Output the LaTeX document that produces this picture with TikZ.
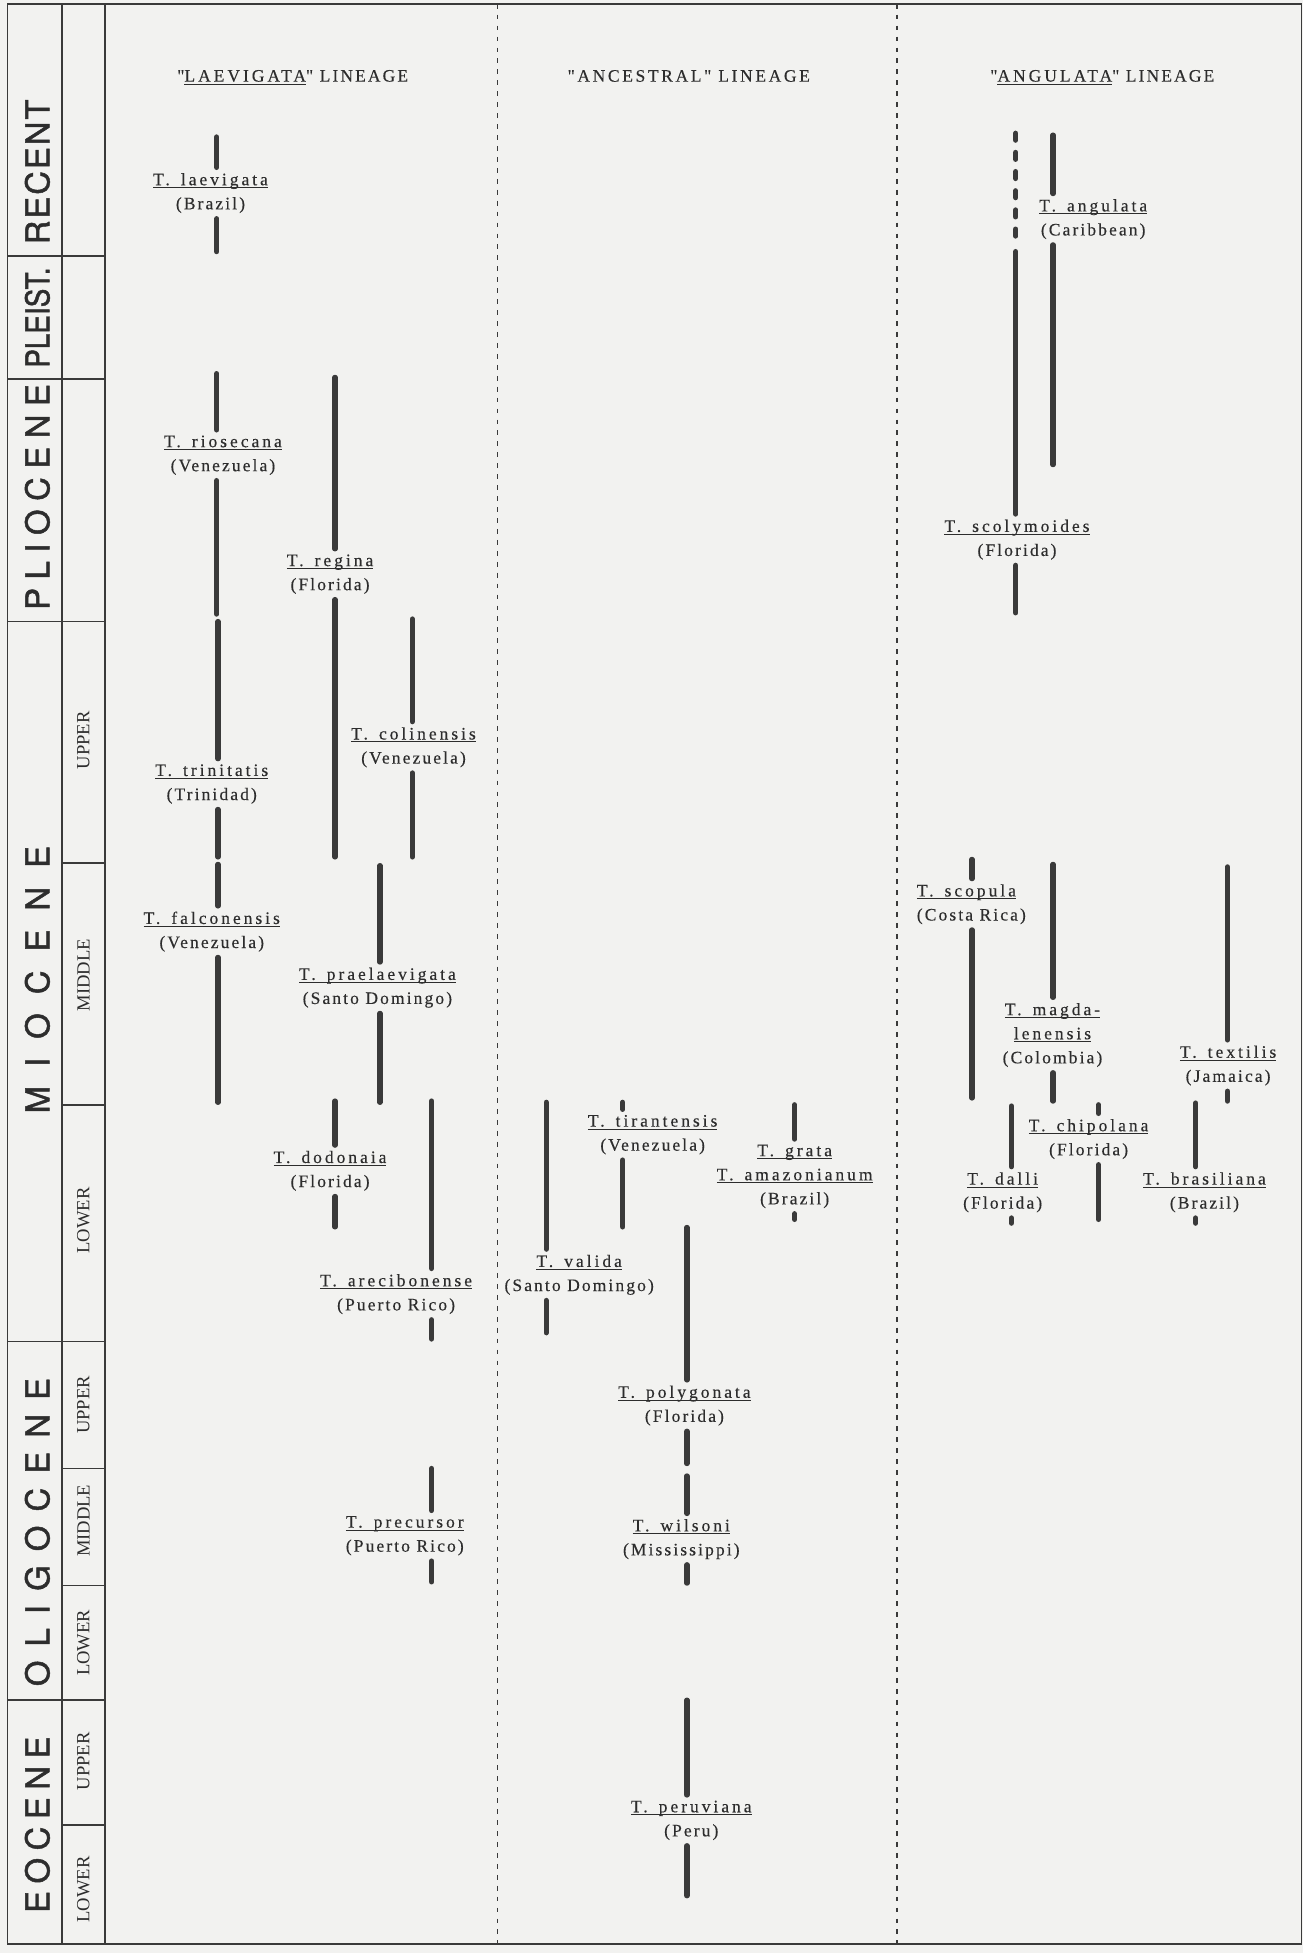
\documentclass[tikz,border=0pt]{standalone}
\usepackage{fontspec}
\setmainfont{Liberation Serif}
\newfontfamily\specfont[LetterSpace=12, FakeBold=0.3]{Liberation Serif}
\newfontfamily\namefont[LetterSpace=17, WordSpace=1.5, FakeBold=0.3]{Liberation Serif}
\newfontfamily\epochfont[FakeBold=1.5]{TeX Gyre Heros}
\definecolor{paper}{RGB}{242,242,240}
\definecolor{ink}{RGB}{58,58,58}
\definecolor{type}{RGB}{45,45,45}
% underlined species name, rule set just below the baseline
\newcommand{\uname}[1]{\setbox0=\hbox{\namefont #1}\rlap{\rule[-1.3pt]{\wd0}{0.4pt}}\box0}

\begin{document}
\begin{tikzpicture}[x=0.02cm, y=-0.02cm]
	\tikzset{
		frame/.style={draw=ink, line width=0.8pt},
		divide/.style={draw=ink, line width=0.7pt, dash pattern=on 2.2pt off 2.8pt},
		bar/.style={draw=ink, line width=0.085cm, line cap=round},
		dotbar/.style={bar, dash pattern=on 0.11cm off 0.198cm},
		spec/.style={align=center, inner xsep=1pt, inner ysep=2.4pt, text=type, font=\specfont\fontsize{8}{11}\selectfont},
		lineage/.style={text=type, font=\specfont\fontsize{8}{11}\selectfont},
		epoch/.style={rotate=90, inner sep=0pt, text=type, font=\epochfont\fontsize{15}{15}\selectfont},
		stage/.style={rotate=90, inner sep=0pt, text=type, font=\fontsize{8.5}{8.5}\selectfont}
	}
	\useasboundingbox[fill=paper] (0,0) rectangle (1046,1568);

	% time scale
	\draw[frame] (6,3) rectangle (1045,1561);
	\draw[frame] (50,3) -- (50,1561);
	\draw[frame] (84,3) -- (84,1561);
	\foreach \y in {205.7,304,499,1077,1365}
		\draw[frame] (6,\y) -- (84,\y);
	\foreach \y in {693,887,1179,1273,1465}
		\draw[frame] (50,\y) -- (84,\y);
	\draw[divide] (399.5,3) -- (399.5,1561);
	\draw[divide] (720,3) -- (720,1561);

	\node[epoch] (recent) at (30,138) {\addfontfeature{LetterSpace=6}RECENT};
	\node[epoch, xscale=0.85] (pleist) at (30,255) {PLEIST.};
	\node[epoch] (plio) at (30,399) {\addfontfeature{LetterSpace=26}PLIOCENE};
	\node[epoch] (mio) at (30,786.5) {\addfontfeature{LetterSpace=58}MIOCENE};
	\node[epoch] (oligo) at (30,1230) {\addfontfeature{LetterSpace=43}OLIGOCENE};
	\node[epoch] (eoc) at (30,1465) {\addfontfeature{LetterSpace=23}EOCENE};

	\node[stage] (mio-u) at (67,594.5) {UPPER};
	\node[stage] (mio-m) at (67,783) {MIDDLE};
	\node[stage] (mio-l) at (67,980) {LOWER};
	\node[stage] (oli-u) at (67,1128) {UPPER};
	\node[stage] (oli-m) at (67,1221) {MIDDLE};
	\node[stage] (oli-l) at (67,1319) {LOWER};
	\node[stage] (eoc-u) at (67,1414) {UPPER};
	\node[stage] (eoc-l) at (67,1517) {LOWER};

	% lineage heads
	\node[lineage] (hlaev) at (235,62) {"\uname{LAEVIGATA}" LINEAGE};
	\node[lineage] (hanc) at (553,61) {\addfontfeature{LetterSpace=15}"ANCESTRAL" LINEAGE};
	\node[lineage] (hang) at (885,62) {"\uname{ANGULATA}" LINEAGE};

	% "laevigata" lineage
	\coordinate (laev-t) at (174,110);   \coordinate (laev-b) at (174,202);
	\coordinate (rios-t) at (174,300);   \coordinate (rios-b) at (174,493);
	\coordinate (regi-t) at (269,303);   \coordinate (regi-b) at (269,688);
	\coordinate (trin-t) at (175,499);   \coordinate (trin-b) at (175,688);
	\coordinate (falc-t) at (175,694);   \coordinate (falc-b) at (175,885);
	\coordinate (coli-t) at (331,497);   \coordinate (coli-b) at (331,688);
	\coordinate (prae-t) at (305,695);   \coordinate (prae-b) at (305,885);
	\coordinate (dodo-t) at (269,884);   \coordinate (dodo-b) at (269,985);
	\coordinate (arec-t) at (346.5,884); \coordinate (arec-b) at (346.5,1075);
	\coordinate (prec-t) at (346.5,1179); \coordinate (prec-b) at (346.5,1270);
	\node[spec] (laev) at (169,155) {\uname{T. laevigata}\\(Brazil)};
	\node[spec] (rios) at (179,365.5) {\uname{T. riosecana}\\(Venezuela)};
	\node[spec] (regi) at (265,461) {\uname{T. regina}\\(Florida)};
	\node[spec] (trin) at (170,629.5) {\uname{T. trinitatis}\\(Trinidad)};
	\node[spec] (falc) at (170,748) {\uname{T. falconensis}\\(Venezuela)};
	\node[spec] (coli) at (332,600) {\uname{T. colinensis}\\(Venezuela)};
	\node[spec] (prae) at (303,793) {\uname{T. praelaevigata}\\(Santo Domingo)};
	\node[spec] (dodo) at (265,940) {\uname{T. dodonaia}\\(Florida)};
	\node[spec] (arec) at (318,1039) {\uname{T. arecibonense}\\(Puerto Rico)};
	\node[spec] (prec) at (325,1233) {\uname{T. precursor}\\(Puerto Rico)};

	% "ancestral" lineage
	\coordinate (vali-t) at (438.5,885);  \coordinate (vali-b) at (438.5,1070);
	\coordinate (tira-t) at (500,885);    \coordinate (tira-b) at (500,985);
	\coordinate (grat-t) at (638,887);    \coordinate (grat-b) at (638,979);
	\coordinate (poly-t) at (551.5,985.5); \coordinate (poly-b) at (551.5,1175);
	\coordinate (wils-t) at (551.5,1185); \coordinate (wils-b) at (551.5,1271);
	\coordinate (peru-t) at (551.5,1365); \coordinate (peru-b) at (551.5,1522);
	\node[spec] (vali) at (465,1023.5) {\uname{T. valida}\\(Santo Domingo)};
	\node[spec] (tira) at (524,911) {\uname{T. tirantensis}\\(Venezuela)};
	\node[spec] (grat) at (638,944.5) {\uname{T. grata}\\\uname{T. amazonianum}\\(Brazil)};
	\node[spec] (poly) at (549.5,1128.5) {\uname{T. polygonata}\\(Florida)};
	\node[spec] (wils) at (547,1235.7) {\uname{T. wilsoni}\\(Mississippi)};
	\node[spec] (peru) at (555,1461.5) {\uname{T. peruviana}\\(Peru)};

	% "angulata" lineage
	\coordinate (scol-d) at (815.5,107);  \coordinate (scol-e) at (815.5,195);
	\coordinate (scol-t) at (815.5,202);  \coordinate (scol-b) at (815.5,492);
	\coordinate (angu-t) at (845.5,108.5); \coordinate (angu-b) at (845.5,373);
	\coordinate (scop-t) at (780.3,690);  \coordinate (scop-b) at (780.3,881.5);
	\coordinate (magd-t) at (845.5,694);  \coordinate (magd-b) at (845.5,884);
	\coordinate (text-t) at (985.5,696);  \coordinate (text-b) at (985.5,884);
	\coordinate (dall-t) at (812,888);    \coordinate (dall-b) at (812,982);
	\coordinate (chip-t) at (882,887);    \coordinate (chip-b) at (882,979);
	\coordinate (bras-t) at (960,885.6);  \coordinate (bras-b) at (960,982);
	\node[spec] (scol) at (816.5,433.3) {\uname{T. scolymoides}\\(Florida)};
	\node[spec] (angu) at (877.7,176) {\uname{T. angulata}\\(Caribbean)};
	\node[spec, align=left, anchor=west] (scop) at (734,726) {\uname{T. scopula}\\(Costa Rica)};
	\node[spec] (magd) at (845,831) {\uname{T. magda-}\\\uname{lenensis}\\(Colombia)};
	\node[spec] (text) at (986,855.5) {\uname{T. textilis}\\(Jamaica)};
	\node[spec] (dall) at (805,957.3) {\uname{T. dalli}\\(Florida)};
	\node[spec] (chip) at (874,914.5) {\uname{T. chipolana}\\(Florida)};
	\node[spec] (bras) at (967,957.3) {\uname{T. brasiliana}\\(Brazil)};

	\draw[dotbar] (scol-d) -- (scol-e);
	\foreach \s in {laev,rios,regi,trin,falc,coli,prae,dodo,arec,prec,
			vali,tira,grat,poly,wils,peru,
			scol,angu,scop,magd,text,dall,chip,bras}
		\draw[bar] (\s-t) -- (\s-t |- \s.north) (\s-t |- \s.south) -- (\s-b);
\end{tikzpicture}
\end{document}
